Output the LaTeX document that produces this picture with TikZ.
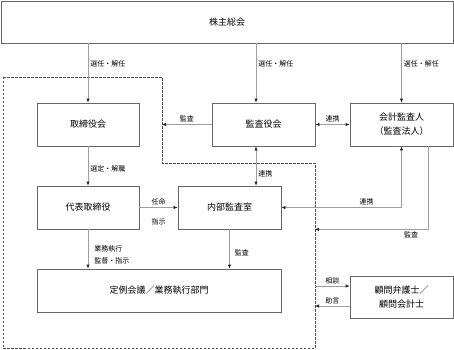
\documentclass[tikz,border=0pt]{standalone}
\usepackage{fontspec}
\setmainfont{Noto Sans CJK JP}
\usetikzlibrary{arrows.meta}

\begin{document}
\begin{tikzpicture}[
    x=1pt, y=-1pt,
    box/.style={draw=black!60, line width=0.7pt, minimum width=102pt, minimum height=43pt,
        inner sep=0pt, align=center, font=\fontsize{9}{14}\selectfont},
    tip/.style={Latex[length=4pt,width=3.5pt,color=black!85]},
    arr/.style={draw=black!38, line width=0.7pt, -{Latex[length=4pt,width=3.5pt,color=black!85]}},
    darr/.style={arr, {Latex[length=4pt,width=3.5pt,color=black!85]}-{Latex[length=4pt,width=3.5pt,color=black!85]}},
    zone/.style={draw=black!70, line width=0.7pt, dash pattern=on 2.5pt off 1.5pt},
    lbl/.style={font=\fontsize{7}{12}\selectfont, inner sep=2pt}
]
\useasboundingbox (0,0) rectangle (454,349);

% shareholders meeting
\node[box, minimum width=452pt, minimum height=42pt] (soukai) at (227,22) {株主総会};

% upper row
\node[box] (board) at (88,124.5) {取締役会};
\node[box, minimum width=103pt] (kansa) at (263.5,124.5) {監査役会};
\node[box, minimum width=103pt] (kaikei) at (401.5,124.5) {会計監査人\\（監査法人）};

% middle row
\node[box] (daihyo) at (88,207.5) {代表取締役};
\node[box, minimum width=103pt] (naibu) at (229.5,207.5) {内部監査室};

% bottom row
\node[box, minimum width=244pt] (teirei) at (159,290.5) {定例会議／業務執行部門};
\node[box, minimum width=103pt, minimum height=42pt] (komon) at (401.5,297) {顧問弁護士／\\顧問会計士};

% dashed boundary
\coordinate (z1) at (3,77);
\coordinate (z2) at (162,163);
\coordinate (z3) at (315,348);
\draw[zone] (z1) -| (z2) -| (z3) -| (z1) -- cycle;

% election
\coordinate (kcol) at (256,0);
\coordinate (kcol2) at (428,0);
\draw[arr] (soukai.south -| board.north) -- node[lbl, right, pos=0.35] {選任・解任} (board.north);
\draw[arr] (soukai.south -| kcol) -- node[lbl, right, pos=0.35] {選任・解任} (kansa.north -| kcol);
\draw[arr] (soukai.south -| kaikei.north) -- node[lbl, right, pos=0.35] {選任・解任} (kaikei.north);

% audit and cooperation
\draw[arr] (kansa.west) -- node[lbl, above] {監査} (kansa.west -| z2);
\draw[darr] (kansa.east) -- node[lbl, above] {連携} (kaikei.west);
\draw[darr] (kansa.south -| kcol) -- node[lbl, right, pos=0.7] {連携} (naibu.north -| kcol);
\draw[darr] (kaikei.south) |- node[lbl, above, pos=0.645] {連携} (naibu.east);
\draw[arr] (kaikei.south -| kcol2) |- node[lbl, below, pos=0.575] {監査} (daihyo.south -| z3);

% board to representative
\draw[arr] (board.south) -- node[lbl, right, pos=0.58] {選定・解職} (daihyo.north);

% appointment
\draw[arr] (daihyo.east) -- node[lbl, above] {任命} node[lbl, below=9pt] {指示} (naibu.west);

% execution
\draw[arr] (daihyo.south) -- node[lbl, right, pos=0.65, align=left, xshift=4pt] {業務執行\\監督・指示} (daihyo.south |- teirei.north);
\draw[arr] (naibu.south) -- node[lbl, right, pos=0.6, xshift=3pt] {監査} (naibu.south |- teirei.north);

% advisors
\coordinate (soudan) at ([yshift=11pt]komon.west);
\coordinate (jogen) at ([yshift=-9pt]komon.west);
\draw[arr] (soudan -| z3) -- node[lbl, above] {相談} (soudan);
\draw[arr] (jogen) -- node[lbl, above] {助言} (jogen -| z3);

\end{tikzpicture}
\end{document}
